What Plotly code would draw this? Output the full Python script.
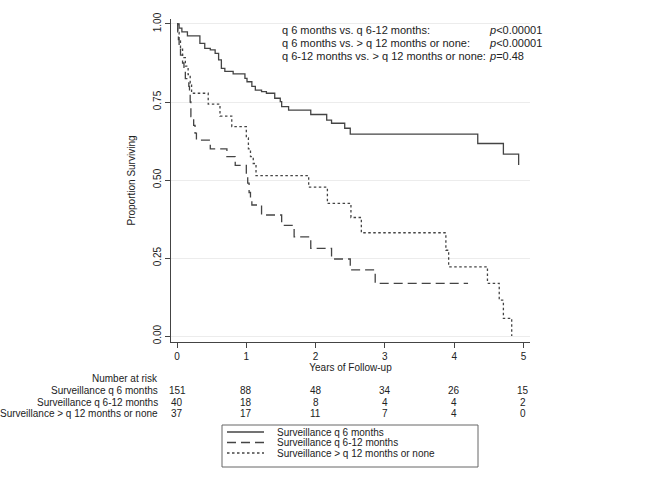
import plotly.graph_objects as go

# ---------------- data ----------------
t_q6 = [0, 0.03, 0.07, 0.15, 0.33, 0.40, 0.48, 0.55, 0.60, 0.64, 0.69, 0.81, 0.98, 1.01,
        1.08, 1.13, 1.22, 1.29, 1.41, 1.49, 1.51, 1.61, 1.93, 2.16, 2.23, 2.42, 2.50,
        4.34, 4.71, 4.93]
s_q6 = [1.0, 0.987, 0.975, 0.962, 0.938, 0.922, 0.917, 0.906, 0.885, 0.858, 0.848, 0.84,
        0.826, 0.815, 0.80, 0.788, 0.783, 0.778, 0.762, 0.751, 0.735, 0.724, 0.71, 0.692,
        0.682, 0.666, 0.647, 0.617, 0.583, 0.548]

t_q612 = [0, 0.01, 0.02, 0.03, 0.05, 0.08, 0.10, 0.12, 0.17, 0.18, 0.19, 0.20, 0.24, 0.26,
          0.28, 0.48, 0.72, 0.84, 1.00, 1.02, 1.04, 1.06, 1.08, 1.22, 1.51, 1.69, 1.93,
          2.23, 2.50, 2.86, 4.20]
s_q612 = [1.0, 0.975, 0.95, 0.925, 0.90, 0.875, 0.85, 0.825, 0.80, 0.775, 0.75, 0.703,
          0.675, 0.65, 0.628, 0.60, 0.575, 0.547, 0.52, 0.49, 0.46, 0.44, 0.42, 0.388,
          0.355, 0.318, 0.281, 0.247, 0.212, 0.169, 0.169]

t_q12 = [0, 0.01, 0.03, 0.05, 0.08, 0.12, 0.16, 0.19, 0.21, 0.45, 0.62, 0.79, 1.00, 1.03,
         1.06, 1.10, 1.14, 1.90, 2.17, 2.51, 2.66, 3.88, 3.92, 4.48, 4.65, 4.71, 4.83]
s_q12 = [1.0, 0.973, 0.946, 0.919, 0.892, 0.865, 0.838, 0.81, 0.778, 0.743, 0.705, 0.671,
         0.635, 0.60, 0.575, 0.553, 0.514, 0.477, 0.425, 0.38, 0.331, 0.275, 0.222, 0.169,
         0.115, 0.057, 0.0]

series_names = ["Surveillance q 6 months", "Surveillance q 6-12 months",
                "Surveillance > q 12 months or none"]

risk_times = [0, 1, 2, 3, 4, 5]
risk_q6 = [151, 88, 48, 34, 26, 15]
risk_q612 = [40, 18, 8, 4, 4, 2]
risk_q12 = [37, 17, 11, 7, 4, 0]

y_tickvals = [0, 0.25, 0.5, 0.75, 1.0]
y_ticktext = ["0.00", "0.25", "0.50", "0.75", "1.00"]

comparisons = ["q 6 months vs. q 6-12 months:",
               "q 6 months vs. &gt; q 12 months or none:",
               "q 6-12 months vs. &gt; q 12 months or none:"]
pvalues = ["<i>p</i>&lt;0.00001", "<i>p</i>&lt;0.00001", "<i>p</i>=0.48"]

# ---------------- layout helpers ----------------
W, H = 671, 488
L, R, T, B = 171, 530, 19, 342   # plot area in pixels
FONT = "Liberation Sans, Arial, sans-serif"
TXT = "#222222"
LINE = "#444444"


def px(x):
    return (x - L) / (R - L)


def py(y):
    return (B - y) / (B - T)


dash_styles = ["solid", "9px,5px", "2.5px,2.5px"]
curves = [(t_q6, s_q6), (t_q612, s_q612), (t_q12, s_q12)]

fig = go.Figure()
for (tt, ss), name, dash in zip(curves, series_names, dash_styles):
    fig.add_trace(go.Scatter(x=tt, y=ss, mode="lines", name=name,
                             line=dict(shape="hv", color=LINE, width=1.3, dash=dash),
                             showlegend=False, hoverinfo="skip"))

annotations = []
# p-value block
row_y = [30, 43, 56]
for txt, pv, yy in zip(comparisons, pvalues, row_y):
    annotations.append(dict(xref="paper", yref="paper", x=px(280), y=py(yy), text=txt,
                            showarrow=False, xanchor="left", yanchor="middle",
                            font=dict(size=11, color=TXT, family=FONT)))
    annotations.append(dict(xref="paper", yref="paper", x=px(487), y=py(yy), text=pv,
                            showarrow=False, xanchor="left", yanchor="middle",
                            font=dict(size=11, color=TXT, family=FONT)))

# Number-at-risk table
annotations.append(dict(xref="paper", yref="paper", x=px(160), y=py(378),
                        text="Number at risk", showarrow=False, xanchor="right",
                        yanchor="middle", font=dict(size=10, color=TXT, family=FONT)))
risk_rows = [risk_q6, risk_q612, risk_q12]
risk_y = [390, 402, 414]
for name, vals, yy in zip(series_names, risk_rows, risk_y):
    annotations.append(dict(xref="paper", yref="paper", x=px(160), y=py(yy),
                            text=name.replace(">", "&gt;"), showarrow=False,
                            xanchor="right", yanchor="middle",
                            font=dict(size=10, color=TXT, family=FONT)))
    for tx, v in zip(risk_times, vals):
        annotations.append(dict(xref="x", yref="paper", x=tx, y=py(yy), text=str(v),
                                showarrow=False, xanchor="center", yanchor="middle",
                                font=dict(size=10, color=TXT, family=FONT)))

# Custom legend box
shapes = [dict(type="rect", xref="paper", yref="paper", x0=px(222), x1=px(478),
               y0=py(425), y1=py(467), line=dict(color="#666666", width=1),
               fillcolor="white")]
leg_y = [432, 442.5, 453]
for name, dash, yy in zip(series_names, dash_styles, leg_y):
    shapes.append(dict(type="line", xref="paper", yref="paper", x0=px(227), x1=px(264),
                       y0=py(yy), y1=py(yy), line=dict(color=LINE, width=1.3, dash=dash)))
    annotations.append(dict(xref="paper", yref="paper", x=px(275), y=py(yy),
                            text=name.replace(">", "&gt;"), showarrow=False,
                            xanchor="left", yanchor="middle",
                            font=dict(size=10, color=TXT, family=FONT)))

fig.update_layout(
    width=W, height=H,
    margin=dict(l=L, r=W - R, t=T, b=H - B, pad=0, autoexpand=False),
    paper_bgcolor="white", plot_bgcolor="white",
    font=dict(family=FONT, size=10, color=TXT),
    annotations=annotations, shapes=shapes,
    showlegend=False,
    xaxis=dict(range=[-0.087, 5.094], tickvals=risk_times, ticks="outside", ticklen=5,
               tickcolor=LINE, showline=True, linecolor=LINE, linewidth=1,
               showgrid=False, zeroline=False, tickfont=dict(size=10, color=TXT),
               automargin=False,
               title=dict(text="Years of Follow-up", standoff=1,
                          font=dict(size=10, color=TXT))),
    yaxis=dict(range=[-0.019, 1.016], tickvals=y_tickvals, ticktext=y_ticktext,
               tickangle=-90, ticks="outside", ticklen=5, tickcolor=LINE,
               showline=True, linecolor=LINE, linewidth=1,
               showgrid=True, gridcolor="#ececec", gridwidth=1, zeroline=False,
               tickfont=dict(size=10, color=TXT), automargin=False,
               title=dict(text="Proportion Surviving", standoff=14,
                          font=dict(size=10, color=TXT))),
)

# remove the default 8px page margin so the figure sits at the window origin
fig.write_html("out.html",
               config={"displayModeBar": False},
               post_script="document.body.style.margin='0';document.body.style.overflow='hidden';")
